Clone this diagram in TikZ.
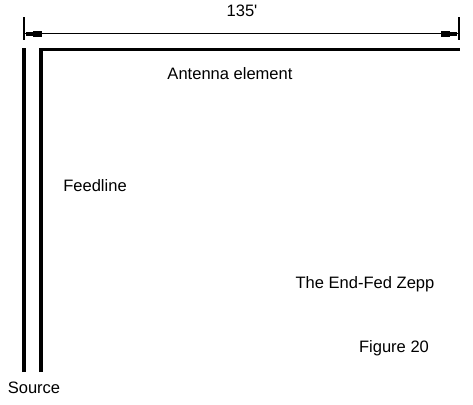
\documentclass[tikz,border=0pt]{standalone}
\usepackage{fontspec}
\setmainfont{Liberation Sans}
\begin{document}
\begin{tikzpicture}[x=0.75pt,y=-0.75pt,
  wire/.style={line width=2.3pt},
  thin/.style={line width=0.9pt},
  lbl/.style={inner sep=0pt,font=\fontsize{12.4}{14}\selectfont},
  tipfill/.style={fill=black,draw=none}]
\useasboundingbox (0,0) rectangle (473,404);
% dimension
\coordinate (tl1) at (24,17); \coordinate (tl2) at (24,40);
\coordinate (tr1) at (459,17); \coordinate (tr2) at (459,40);
\coordinate (dl) at (24,33.5); \coordinate (dr) at (459,33.5);
\draw[thin] (tl1) -- (tl2);
\draw[thin] (tr1) -- (tr2);
\draw[thin] (dl) -- (dr);
\fill[tipfill] (26,32) rectangle (33,35.5);
\fill[tipfill] (33,30.5) rectangle (42,37);
\fill[tipfill] (457,32) rectangle (450,35.5);
\fill[tipfill] (450,30.5) rectangle (441,37);
\node[lbl] (dim) at (242,11) {135\textquotesingle};
% wires
\coordinate (s1) at (24,372); \coordinate (s1t) at (24,48);
\coordinate (s2) at (41,372); \coordinate (c) at (41,49.5); \coordinate (e) at (460,49.5);
\draw[wire] (s1) -- (s1t);
\draw[wire] (s2) -- (c) -- (e);
% labels
\node[lbl] (ant) at (230,74) {Antenna element};
\node[lbl] (feed) at (95,186) {Feedline};
\node[lbl] (zepp) at (365,284) {The End-Fed Zepp};
\node[lbl] (fig) at (394,348) {Figure 20};
\node[lbl] (src) at (34,388) {Source};
\end{tikzpicture}
\end{document}
